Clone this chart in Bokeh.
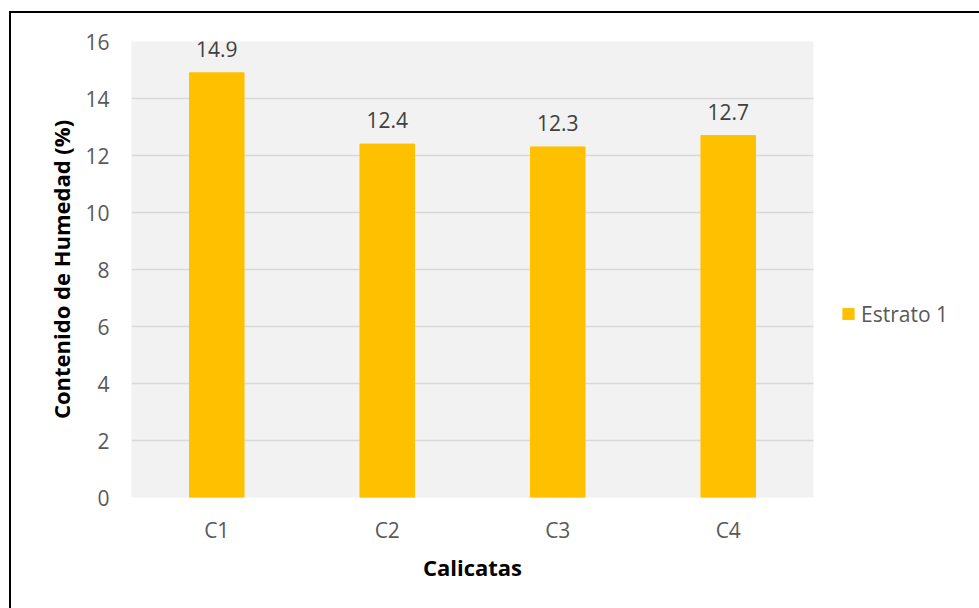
from bokeh.plotting import figure
from bokeh.models import ColumnDataSource, LabelSet, Legend, LegendItem, FixedTicker
from bokeh.core.properties import value
from bokeh.embed import file_html
from bokeh.resources import INLINE

categories = ["C1", "C2", "C3", "C4"]
values = [14.9, 12.4, 12.3, 12.7]
labels = ["14.9", "12.4", "12.3", "12.7"]
series_name = "Estrato 1"
y_ticks = [0, 2, 4, 6, 8, 10, 12, 14, 16]

FONT = "Open Sans"
source = ColumnDataSource(dict(x=categories, y=values, lab=labels))

# canvas starts at (11, 13) in the window because of the CSS margin + border
p = figure(x_range=categories, y_range=(0, 16), frame_width=682, frame_height=456,
           output_backend="svg", toolbar_location=None,
           min_border_left=120, min_border_right=166, min_border_top=28, min_border_bottom=111)
p.styles = {"margin-left": "9px", "margin-top": "11px",
            "border-left": "2px solid black", "border-top": "2px solid black"}
p.background_fill_color = "#f2f2f2"
p.border_fill_color = "white"
p.outline_line_color = None
p.x_range.range_padding = 0

r = p.vbar(x="x", top="y", width=0.32, source=source, color="#ffc000")

p.add_layout(LabelSet(x="x", y="y", text="lab", source=source, text_align="center",
                      text_baseline="bottom", y_offset=16, text_font=value(FONT),
                      text_font_size="21px", text_color="#404040"))

p.yaxis.ticker = FixedTicker(ticks=y_ticks)
for ax in (p.xaxis[0], p.yaxis[0]):
    ax.axis_line_color = None
    ax.major_tick_line_color = None
    ax.minor_tick_line_color = None
    ax.major_label_text_font = FONT
    ax.major_label_text_font_size = "21px"
    ax.major_label_text_color = "#595959"
    ax.axis_label_text_font = FONT
    ax.axis_label_text_font_size = "22px"
    ax.axis_label_text_font_style = "bold"
    ax.axis_label_text_color = "black"
p.xaxis.major_label_standoff = 12
p.yaxis.major_label_standoff = 16
p.xaxis.axis_label = "Calicatas"
p.yaxis.axis_label = "Contenido de Humedad (%)"
p.xaxis.axis_label_standoff = 5
p.yaxis.axis_label_standoff = 6

p.xgrid.grid_line_color = None
p.ygrid.grid_line_color = "#d9d9d9"
p.ygrid.grid_line_width = 1.5

legend = Legend(items=[LegendItem(label=series_name, renderers=[r])],
                location="center_left", border_line_color=None, background_fill_alpha=0,
                title=" ", title_text_font_size="1px", title_standoff=88,
                label_text_font=FONT, label_text_font_size="21px", label_text_color="#595959",
                glyph_width=14, glyph_height=14, label_standoff=6, padding=0, margin=28)
p.add_layout(legend, "right")

open("out.html", "w").write(file_html(p, INLINE))
